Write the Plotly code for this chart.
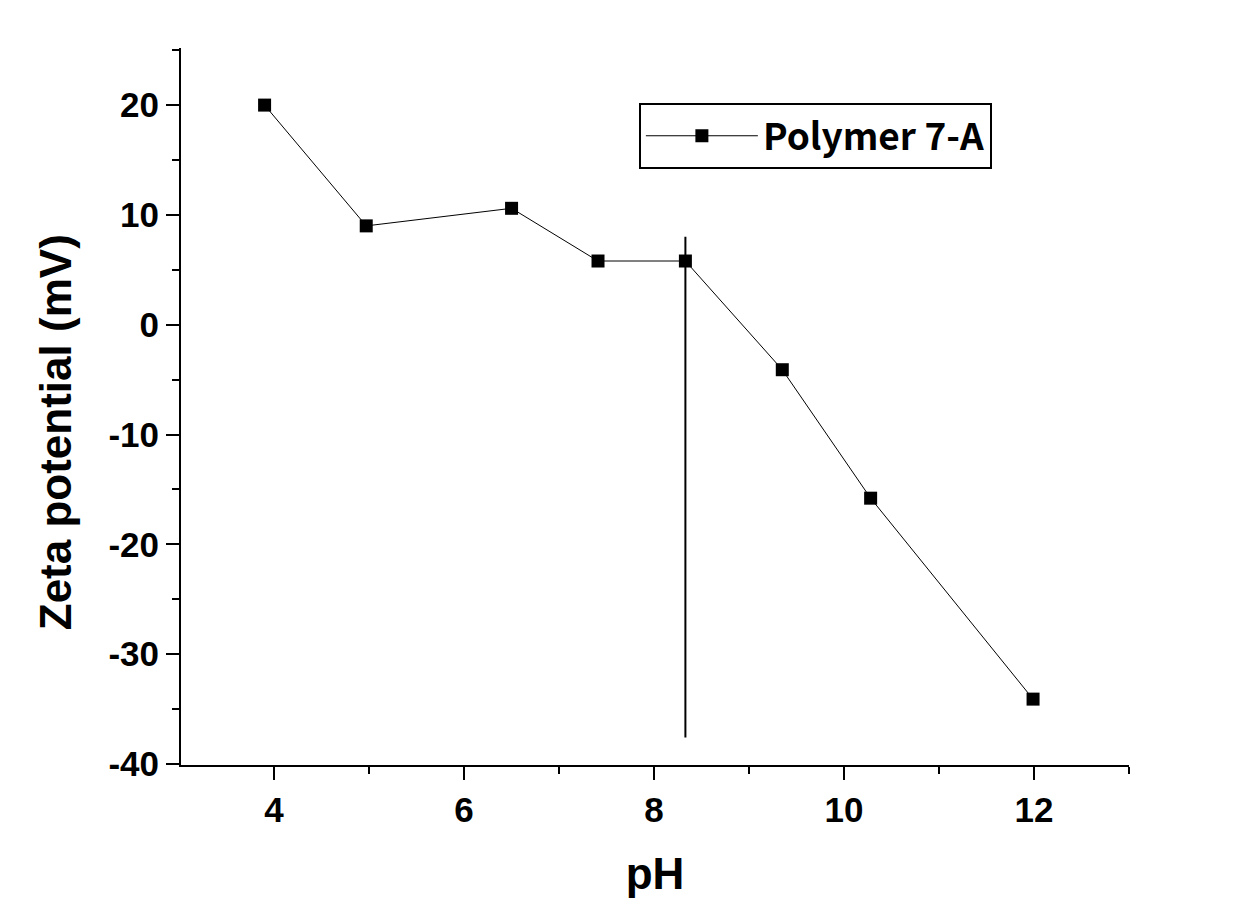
import plotly.graph_objects as go

ph = [3.9, 4.97, 6.5, 7.41, 8.33, 9.35, 10.28, 11.99]
zeta = [20.0, 9.0, 10.6, 5.8, 5.8, -4.1, -15.8, -34.1]
series_name = "Polymer 7-A"
x_title = "pH"
y_title = "Zeta potential (mV)"

vline_x = [8.33, 8.33]
vline_y = [8.0, -37.6]

x_ticks = [4, 6, 8, 10, 12]
y_ticks = [20, 10, 0, -10, -20, -30, -40]

fig = go.Figure()
fig.add_trace(go.Scatter(
    x=ph, y=zeta, mode="lines+markers", name=series_name,
    line=dict(color="black", width=1),
    marker=dict(symbol="square", size=13, color="black"),
))
fig.add_trace(go.Scatter(
    x=vline_x, y=vline_y, mode="lines", showlegend=False,
    line=dict(color="black", width=2), hoverinfo="skip",
))

tickfont = dict(family="Liberation Sans", size=35, color="black", weight="bold")
axis_common = dict(
    showgrid=False, zeroline=False, showline=True, linecolor="black", linewidth=2,
    ticks="outside", ticklen=13, tickwidth=2, tickcolor="black",
    tickfont=tickfont, mirror=False,
)

fig.update_xaxes(
    range=[3.02, 13.0], tickvals=x_ticks, ticktext=[str(v) for v in x_ticks],
    minor=dict(ticks="outside", ticklen=7, tickwidth=2, tickcolor="black", dtick=1, tick0=3),
    title=dict(text=x_title, font=dict(family="Liberation Sans", size=44, color="black", weight="bold"), standoff=30),
    **axis_common,
)
fig.update_yaxes(
    range=[-40.1, 25.2], tickvals=y_ticks, ticktext=[str(v) for v in y_ticks],
    minor=dict(ticks="outside", ticklen=7, tickwidth=2, tickcolor="black", dtick=5, tick0=0),
    **axis_common,
)

fig.add_annotation(
    text=y_title, textangle=-90, showarrow=False,
    xref="paper", yref="paper", x=-0.133, y=0.464, xanchor="center", yanchor="middle",
    font=dict(family="Liberation Sans", size=44, color="black", weight="bold"),
)

fig.update_layout(
    width=1257, height=907,
    margin=dict(l=181, r=128, t=48, b=142),
    plot_bgcolor="white", paper_bgcolor="white",
    legend=dict(
        x=0.483, y=0.923, xanchor="left", yanchor="top",
        bordercolor="black", borderwidth=2, bgcolor="white",
        font=dict(family="Noto Sans CJK KR", size=37, color="black", weight="bold"),
        itemwidth=112,
    ),
)

fig.write_html("out.html")
